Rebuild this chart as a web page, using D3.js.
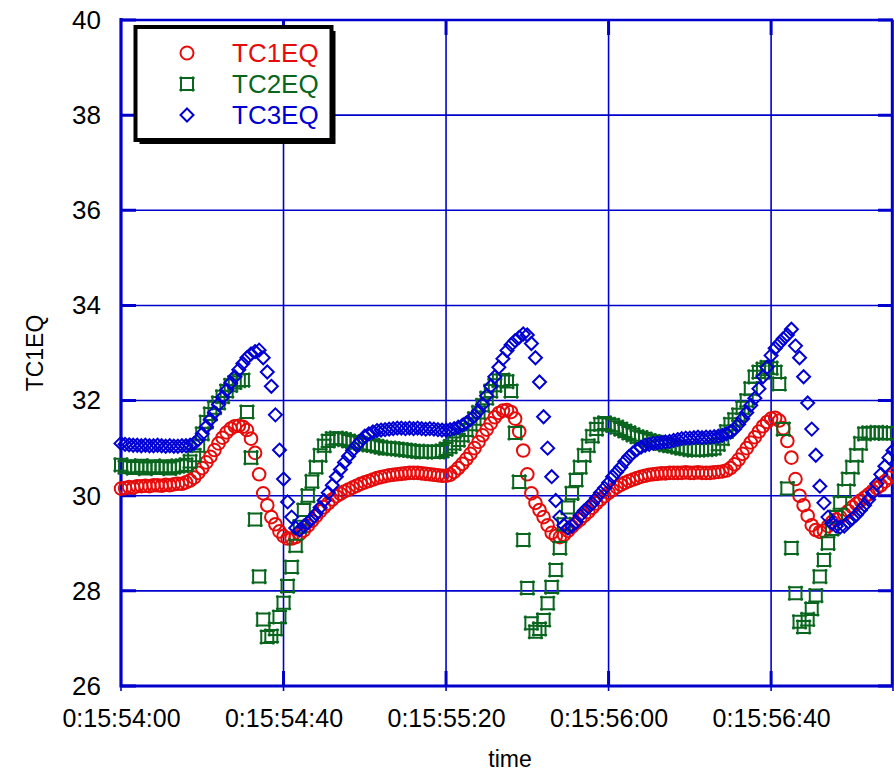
<!DOCTYPE html>
<html>
<head>
<meta charset="utf-8">
<script src="https://cdn.jsdelivr.net/npm/d3@7"></script>
<style>
  body { margin: 0; background: #fff; }
  svg { display: block; font-family: "Liberation Sans", Arial, sans-serif; }
</style>
</head>
<body>
<svg width="894" height="773"></svg>
<script>
// clock at t = 0 (d, h, m, s); one sample per second
const startClock = [0, 15, 54, 0];
const sampleStep = 1;
const timeEnd = 190;
const xTicks = [0, 40, 80, 120, 160];
const yTicks = [26, 28, 30, 32, 34, 36, 38, 40];

const tc1eq = [
  30.15, 30.16, 30.18, 30.17, 30.2, 30.2, 30.21, 30.2, 30.22, 30.22,
  30.21, 30.23, 30.22, 30.24, 30.25, 30.25, 30.28, 30.32, 30.38, 30.48,
  30.58, 30.7, 30.82, 30.96, 31.1, 31.22, 31.33, 31.41, 31.46, 31.47,
  31.45, 31.38, 31.2, 30.9, 30.45, 30.05, 29.8, 29.55, 29.4, 29.25,
  29.15, 29.1, 29.1, 29.13, 29.2, 29.27, 29.37, 29.47, 29.57, 29.67,
  29.76, 29.84, 29.92, 29.99, 30.04, 30.09, 30.13, 30.17, 30.21, 30.25,
  30.28, 30.31, 30.34, 30.37, 30.39, 30.41, 30.43, 30.44, 30.45, 30.46,
  30.47, 30.48, 30.48, 30.48, 30.47, 30.46, 30.45, 30.44, 30.43, 30.42,
  30.42, 30.44, 30.5, 30.58, 30.67, 30.77, 30.88, 31.0, 31.13, 31.27,
  31.39, 31.52, 31.65, 31.74, 31.79, 31.8, 31.76, 31.62, 31.35, 30.95,
  30.45, 30.05, 29.85, 29.7, 29.55, 29.38, 29.22, 29.15, 29.13, 29.18,
  29.26, 29.35, 29.43, 29.5, 29.58, 29.66, 29.75, 29.84, 29.92, 29.99,
  30.06, 30.12, 30.18, 30.23, 30.27, 30.31, 30.34, 30.37, 30.4, 30.42,
  30.44, 30.45, 30.46, 30.47, 30.47, 30.48, 30.48, 30.48, 30.48, 30.49,
  30.48, 30.48, 30.49, 30.48, 30.48, 30.48, 30.49, 30.5, 30.51, 30.53,
  30.58, 30.66, 30.76, 30.88, 31.0, 31.12, 31.23, 31.35, 31.46, 31.55,
  31.62, 31.64, 31.58, 31.42, 31.15, 30.8, 30.35, 30.0, 29.8, 29.58,
  29.38, 29.28, 29.24, 29.26, 29.36, 29.45, 29.5, 29.55, 29.61, 29.68,
  29.76, 29.83, 29.9, 29.96, 30.03, 30.1, 30.16, 30.22, 30.3, 30.38,
  30.45,
];

const tc2eq = [
  30.65, 30.6, 30.62, 30.58, 30.6, 30.63, 30.57, 30.6, 30.62, 30.58,
  30.6, 30.62, 30.57, 30.6, 30.62, 30.63, 30.65, 30.72, 30.85, 31.05,
  31.3, 31.55, 31.72, 31.85, 31.95, 32.08, 32.2, 32.32, 32.38, 32.42,
  32.43, 31.76, 30.8, 29.5, 28.3, 27.4, 27.03, 27.05, 27.2, 27.45,
  27.75, 28.1, 28.5, 28.95, 29.35, 29.7, 30.0, 30.3, 30.6, 30.85,
  31.05, 31.15, 31.2, 31.21, 31.2, 31.18, 31.15, 31.13, 31.12, 31.1,
  31.08, 31.07, 31.06, 31.04, 31.02, 31.0, 31.0, 30.99, 30.98, 30.97,
  30.96, 30.95, 30.94, 30.93, 30.92, 30.92, 30.93, 30.92, 30.92, 30.94,
  30.98, 31.03, 31.1, 31.17, 31.27, 31.38, 31.5, 31.62, 31.75, 31.9,
  32.05, 32.2, 32.32, 32.42, 32.43, 32.4, 32.2, 31.32, 30.29, 29.07,
  28.06, 27.32, 27.14, 27.2, 27.39, 27.74, 28.08, 28.44, 28.9, 29.4,
  29.75, 30.05, 30.33, 30.6, 30.85, 31.05, 31.25, 31.4, 31.5, 31.53,
  31.5, 31.48, 31.44, 31.4, 31.36, 31.32, 31.28, 31.24, 31.22, 31.19,
  31.16, 31.14, 31.12, 31.1, 31.07, 31.05, 31.04, 31.02, 31.0, 30.99,
  30.97, 30.96, 30.96, 30.97, 30.97, 30.98, 31.0, 31.08, 31.2, 31.35,
  31.5, 31.6, 31.7, 31.85, 32.0, 32.25, 32.5, 32.6, 32.66, 32.7,
  32.68, 32.6, 32.35, 31.4, 30.15, 28.9, 27.95, 27.35, 27.24, 27.4,
  27.62, 27.9, 28.3, 28.65, 29.0, 29.3, 29.55, 29.85, 30.1, 30.35,
  30.6, 30.85, 31.1, 31.3, 31.32, 31.32, 31.33, 31.32, 31.31, 31.32,
  31.32,
];

const tc3eq = [
  31.1, 31.08, 31.07, 31.06, 31.06, 31.05, 31.06, 31.05, 31.05, 31.06,
  31.05, 31.04, 31.05, 31.04, 31.04, 31.05, 31.05, 31.06, 31.1, 31.18,
  31.3, 31.45, 31.6, 31.75, 31.92, 32.07, 32.22, 32.37, 32.5, 32.65,
  32.78, 32.9, 32.98, 33.03, 33.06, 32.9, 32.6, 32.3, 31.7, 30.96,
  30.35, 29.87, 29.55, 29.32, 29.28, 29.36, 29.43, 29.52, 29.62, 29.75,
  29.9, 30.06, 30.22, 30.4, 30.55, 30.7, 30.83, 30.95, 31.06, 31.15,
  31.25, 31.3, 31.34, 31.37, 31.38, 31.39, 31.4, 31.41, 31.42, 31.42,
  31.41, 31.42, 31.41, 31.42, 31.41, 31.4, 31.41, 31.4, 31.39, 31.38,
  31.38, 31.39, 31.41, 31.44, 31.48, 31.53, 31.6, 31.68, 31.78, 31.92,
  32.1, 32.3, 32.5, 32.7, 32.88, 33.05, 33.17, 33.26, 33.33, 33.4,
  33.38, 33.2, 32.9, 32.39, 31.66, 31.0, 30.4, 29.9, 29.55, 29.38,
  29.32, 29.36, 29.45, 29.58, 29.68, 29.76, 29.84, 29.95, 30.06, 30.16,
  30.27, 30.4, 30.5, 30.6, 30.72, 30.82, 30.9, 30.97, 31.02, 31.06,
  31.08, 31.1, 31.11, 31.12, 31.13, 31.14, 31.16, 31.18, 31.2, 31.21,
  31.21, 31.22, 31.23, 31.22, 31.23, 31.23, 31.24, 31.25, 31.27, 31.3,
  31.34, 31.4, 31.5, 31.62, 31.75, 31.9, 32.05, 32.25, 32.5, 32.7,
  32.95, 33.1, 33.2, 33.3, 33.38, 33.5, 33.15, 32.9, 32.5, 31.95,
  31.4, 30.85, 30.2, 29.85, 29.55, 29.42, 29.36, 29.34, 29.36, 29.45,
  29.52, 29.6, 29.7, 29.8, 29.92, 30.06, 30.25, 30.45, 30.62, 30.8,
  30.95,
];

const seriesNames = ['TC1EQ', 'TC2EQ', 'TC3EQ'];
const seriesColors = ['#e60c0c', '#0a661f', '#0000d4'];
const seriesShapes = ['circle', 'square', 'diamond'];
const gridColor = '#0000cc';

const plot = { left: 121, right: 893, top: 20, bottom: 686 };

const x = d3.scaleLinear().domain([0, timeEnd]).range([plot.left, plot.right]);
const y = d3.scaleLinear().domain([26, 40]).range([plot.bottom, plot.top]);

const pad = (n) => String(n).padStart(2, '0');
const clockLabel = (t) => {
  const [d0, h0, m0, s0] = startClock;
  const total = ((d0 * 24 + h0) * 60 + m0) * 60 + s0 + t;
  const d = Math.floor(total / 86400);
  const h = Math.floor((total % 86400) / 3600);
  const m = Math.floor((total % 3600) / 60);
  const s = total % 60;
  return `${d}:${pad(h)}:${pad(m)}:${pad(s)}`;
};

const shapePath = (shape, r) => {
  if (shape === 'circle') return d3.symbol(d3.symbolCircle, Math.PI * r * r)();
  if (shape === 'diamond') return `M0,${-r}L${r},0L0,${r}L${-r},0Z`;
  const s = r - 0.5;
  const e = 1.6;
  return `M${-s - e},${-s}H${s + e}M${-s},${-s - e}V${s + e}M${s},${-s - e}V${s + e}M${-s - e},${s}H${s + e}`;
};

const svg = d3.select('svg');

// grid
const grid = svg.append('g').attr('stroke', gridColor).attr('fill', 'none');
grid.selectAll('.hgrid')
  .data(yTicks)
  .enter()
  .append('line')
  .attr('x1', plot.left)
  .attr('x2', plot.right)
  .attr('y1', (d) => y(d))
  .attr('y2', (d) => y(d))
  .attr('stroke-width', 1.6);
grid.selectAll('.vgrid')
  .data(xTicks.concat([timeEnd]))
  .enter()
  .append('line')
  .attr('x1', (d) => x(d))
  .attr('x2', (d) => x(d))
  .attr('y1', plot.top)
  .attr('y2', plot.bottom + 5)
  .attr('stroke-width', 1.6);

// inner ticks
grid.selectAll('.ltick')
  .data(yTicks)
  .enter()
  .append('path')
  .attr('d', (d) => `M${plot.left},${y(d)}h15M${plot.right},${y(d)}h-15`)
  .attr('stroke-width', 3);
grid.selectAll('.btick')
  .data(xTicks.slice(1))
  .enter()
  .append('path')
  .attr('d', (d) => `M${x(d)},${plot.bottom}v-15M${x(d)},${plot.top}v15`)
  .attr('stroke-width', 3);

// frame
grid.append('path')
  .attr('d', `M${plot.left},${plot.top - 2}V${plot.bottom}H${plot.right}`)
  .attr('stroke-width', 3.2);
grid.append('path')
  .attr('d', `M${plot.left},${plot.top}H${plot.right - 1}V${plot.bottom}`)
  .attr('stroke-width', 2.4);

// axes labels
const yAxis = svg.append('g')
  .attr('transform', `translate(${plot.left},0)`)
  .call(d3.axisLeft(y).tickValues(yTicks).tickSize(0).tickPadding(20));
yAxis.select('.domain').remove();
yAxis.selectAll('text')
  .attr('font-size', 26)
  .attr('font-family', '"Liberation Sans", Arial, sans-serif')
  .attr('fill', '#000');

const xAxis = svg.append('g')
  .attr('transform', `translate(0,${plot.bottom})`)
  .call(d3.axisBottom(x).tickValues(xTicks).tickSize(0).tickPadding(23).tickFormat(clockLabel));
xAxis.select('.domain').remove();
xAxis.selectAll('text')
  .attr('font-size', 25)
  .attr('font-family', '"Liberation Sans", Arial, sans-serif')
  .attr('fill', '#000');

svg.append('text')
  .attr('transform', `translate(43,${(plot.top + plot.bottom) / 2}) rotate(-90)`)
  .attr('text-anchor', 'middle')
  .attr('font-size', 23)
  .text('TC1EQ');

svg.append('text')
  .attr('x', (plot.left + plot.right) / 2 + 3)
  .attr('y', 767)
  .attr('text-anchor', 'middle')
  .attr('font-size', 23)
  .text('time');

// markers
const series = [tc1eq, tc2eq, tc3eq];
const markerSize = [6.3, 6.5, 6.5];
series.forEach((values, k) => {
  svg.append('g')
    .selectAll('path')
    .data(values)
    .enter()
    .append('path')
    .attr('transform', (d, i) => `translate(${x(i * sampleStep)},${y(d)})`)
    .attr('d', shapePath(seriesShapes[k], markerSize[k]))
    .attr('fill', 'none')
    .attr('stroke', seriesColors[k])
    .attr('stroke-width', 2);
});

// legend
const legend = svg.append('g').attr('id', 'legend');
legend.append('rect')
  .attr('x', 139.5).attr('y', 31).attr('width', 196).attr('height', 113)
  .attr('fill', '#000');
legend.append('rect')
  .attr('x', 135.5).attr('y', 27).attr('width', 196).attr('height', 113)
  .attr('fill', '#fff')
  .attr('stroke', '#000')
  .attr('stroke-width', 4);

const rows = legend.selectAll('.row')
  .data(seriesNames)
  .enter()
  .append('g')
  .attr('transform', (d, i) => `translate(0,${53 + i * 31})`);
rows.append('path')
  .attr('transform', 'translate(187,0)')
  .attr('d', (d, i) => shapePath(seriesShapes[i], 6.5))
  .attr('fill', 'none')
  .attr('stroke', (d, i) => seriesColors[i])
  .attr('stroke-width', 2);
rows.append('text')
  .attr('x', 232)
  .attr('y', 9)
  .attr('font-size', 26)
  .attr('fill', (d, i) => seriesColors[i])
  .text((d) => d);
</script>
</body>
</html>
